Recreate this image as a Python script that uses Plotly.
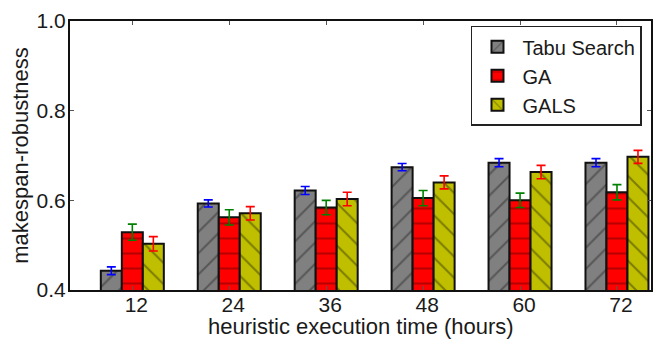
import plotly.graph_objects as go

categories = ["12", "24", "36", "48", "60", "72"]
series_names = ["Tabu Search", "GA", "GALS"]
tabu_values = [0.443, 0.593, 0.622, 0.674, 0.684, 0.684]
tabu_errors = [0.0086, 0.008, 0.009, 0.008, 0.009, 0.009]
ga_values = [0.529, 0.562, 0.584, 0.605, 0.600, 0.618]
ga_errors = [0.018, 0.017, 0.016, 0.017, 0.016, 0.017]
gals_values = [0.503, 0.571, 0.603, 0.640, 0.663, 0.697]
gals_errors = [0.016, 0.015, 0.015, 0.0145, 0.015, 0.0145]
y_ticks = [0.4, 0.6, 0.8, 1.0]
x_title = "heuristic execution time (hours)"
y_title = "makespan-robustness"

styles = [
    dict(fill="#808080", hatch="/", fg="#2e2e2e", err="#0000ff"),
    dict(fill="#ff0000", hatch="-", fg="#700000", err="#008000"),
    dict(fill="#bfbf00", hatch="\\", fg="#3a3a00", err="#ff0000"),
]
values = [tabu_values, ga_values, gals_values]
errors = [tabu_errors, ga_errors, gals_errors]

fig = go.Figure()
for name, vals, errs, st in zip(series_names, values, errors, styles):
    fig.add_trace(go.Bar(
        x=categories, y=vals, name=name,
        marker=dict(color=st["fill"], line=dict(color="#111111", width=2),
                    pattern=dict(shape=st["hatch"], fgcolor=st["fg"], bgcolor=st["fill"],
                                 size=15, solidity=0.14, fillmode="overlay")),
        error_y=dict(type="data", array=errs, visible=True, color=st["err"],
                     thickness=1.6, width=4.5),
    ))

font_family = "Liberation Sans, Arial, sans-serif"
# page body has an 8px default margin, so the figure is slightly smaller than the window
fig.update_layout(
    width=653, height=332,
    margin=dict(l=62, r=10, t=13, b=50, autoexpand=False),
    paper_bgcolor="white", plot_bgcolor="white",
    barmode="group", bargap=0.35, bargroupgap=0,
    font=dict(family=font_family, size=20, color="#1a1a1a"),
    showlegend=True,
    legend=dict(x=0.9845, y=0.982, xanchor="right", yanchor="top",
                bgcolor="white", bordercolor="#222222", borderwidth=1.5,
                font=dict(size=20), tracegroupgap=0, itemwidth=40),
    annotations=[dict(text=x_title, x=0.5, y=-0.1375, xref="paper", yref="paper",
                      xanchor="center", yanchor="middle", showarrow=False,
                      font=dict(size=22))],
)
fig.update_xaxes(
    type="category", range=[-0.643, 5.351], automargin=False,
    showline=True, linecolor="#111111", linewidth=2, mirror="allticks",
    ticks="inside", ticklen=4, tickcolor="#555555",
    showgrid=False, ticklabelshift=4, ticklabelstandoff=-5,
    tickfont=dict(size=21),
)
fig.update_yaxes(
    range=[0.4, 1.0], tickvals=y_ticks, ticktext=["0.4", "0.6", "0.8", "1.0"],
    automargin=False,
    showline=True, linecolor="#111111", linewidth=2, mirror="allticks",
    ticks="inside", ticklen=4, tickcolor="#555555",
    showgrid=False, zeroline=False, ticklabelstandoff=-2,
    tickfont=dict(size=21),
    title=dict(text=y_title, font=dict(size=22), standoff=6),
)
fig.write_html("out.html")
